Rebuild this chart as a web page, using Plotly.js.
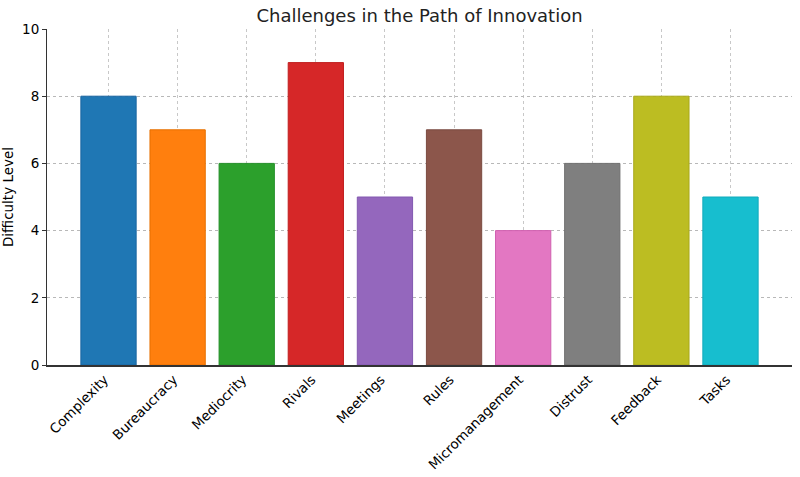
<!DOCTYPE html>
<html>
<head>
<meta charset="utf-8">
<script src="https://cdn.plot.ly/plotly-3.0.1.min.js"></script>
<style>html,body{margin:0;padding:0;background:#fff;}#chart{width:800px;height:477px;}</style>
</head>
<body>
<div id="chart"></div>
<script>
const categories = ["Complexity","Bureaucracy","Mediocrity","Rivals","Meetings","Rules","Micromanagement","Distrust","Feedback","Tasks"];
const difficulty = [8,7,6,9,5,7,4,6,8,5];
const barColors = ["#1f77b4","#ff7f0e","#2ca02c","#d62728","#9467bd","#8c564b","#e377c2","#7f7f7f","#bcbd22","#17becf"];
const edgeColors = ["#1a65a0","#e67000","#25902a","#c01f1f","#8258b0","#7a4a40","#d060b0","#707070","#a8a81a","#12aabb"];
const yTicks = [0,2,4,6,8,10];

const trace = {
  type: "bar",
  x: categories,
  y: difficulty,
  marker: {color: barColors, line: {color: edgeColors, width: 1}},
  width: 0.8,
  hoverinfo: "x+y"
};

const layout = {
  width: 800, height: 477,
  margin: {l: 47, r: 8, t: 29, b: 112},
  paper_bgcolor: "#fff", plot_bgcolor: "#fff",
  font: {family: "DejaVu Sans, sans-serif", color: "#000", size: 13.5},
  title: {text: "Challenges in the Path of Innovation", font: {size: 18, color: "#222"}, x: 0.5, xanchor: "center", xref: "paper", y: 1 - 16/477, yref: "container", yanchor: "middle"},
  bargap: 0.2,
  showlegend: false,
  xaxis: {
    type: "category",
    range: [-0.89, 9.89],
    tickangle: -45,
    ticklabelshift: -4,
    showline: true, linecolor: "#333", linewidth: 1.5,
    showgrid: true, gridcolor: "#c8c8c8", griddash: "dot", gridwidth: 1,
    ticks: "", tickfont: {size: 13.5, color: "#000"},
    zeroline: false
  },
  yaxis: {
    range: [0, 10],
    tickvals: yTicks,
    ticktext: yTicks.map(String),
    showline: true, linecolor: "#333", linewidth: 1.5,
    showgrid: true, gridcolor: "#b8b8b8", griddash: "dot", gridwidth: 1,
    ticks: "outside", ticklen: 3.5, tickcolor: "#333", tickwidth: 1,
    tickfont: {size: 13.5, color: "#000"},
    title: {text: "Difficulty Level", font: {size: 13.5, color: "#000"}, standoff: 6},
    zeroline: false
  }
};

Plotly.newPlot("chart", [trace], layout, {displayModeBar: false, staticPlot: true});
</script>
</body>
</html>
